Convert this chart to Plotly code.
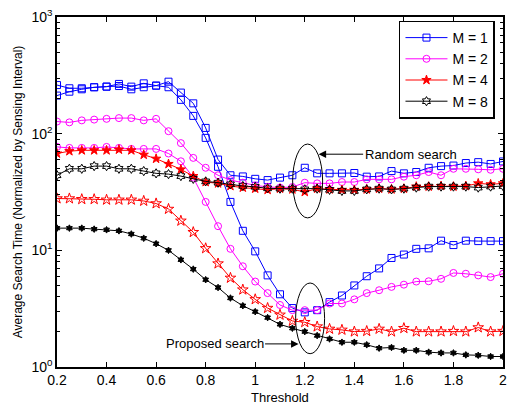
import plotly.graph_objects as go

thresholds = [0.2, 0.25, 0.3, 0.35, 0.4, 0.45, 0.5, 0.55, 0.6, 0.65,
              0.7, 0.75, 0.8, 0.85, 0.9, 0.95, 1.0, 1.05, 1.1, 1.15,
              1.2, 1.25, 1.3, 1.35, 1.4, 1.45, 1.5, 1.55, 1.6, 1.65,
              1.7, 1.75, 1.8, 1.85, 1.9, 1.95, 2.0]

random_m1 = [261, 245, 245, 250, 253, 267, 253, 270, 258, 279,
             225, 182, 112, 60, 44, 43, 41, 40, 42, 44,
             51, 45.7, 45.7, 45.7, 46, 42.8, 43, 47.8, 45.7, 46.9,
             51, 52.7, 53.3, 56, 57, 55, 57.8]
proposed_m1 = [212, 229, 240, 250, 253, 256, 240, 250, 258, 250,
               195, 142, 92, 52, 26, 14.7, 9.8, 6.1, 4.2, 3.2,
               2.94, 3.07, 3.6, 4.1, 5.0, 6.0, 7.0, 8.6, 9.2, 10.3,
               10.4, 12.1, 11.1, 12.1, 12, 12, 12]
random_m2 = [127, 125, 130, 132, 134, 136, 136, 130, 134, 105,
             83, 62, 51, 44, 40, 38, 36, 35, 34.5, 34.9,
             38, 37.5, 37.5, 38.5, 38.5, 40.6, 40.6, 40.6, 42.8, 44,
             46.9, 44, 50, 50, 49.5, 49, 50]
proposed_m2 = [77, 75.5, 75.5, 75.5, 77, 75.5, 74, 74, 74, 67.6,
               58, 42, 26, 16.1, 10.3, 7.3, 5.4, 4.3, 3.4, 3.07,
               3.07, 3.07, 3.5, 3.5, 3.8, 4.3, 4.55, 4.86, 5.08, 5.4,
               5.43, 5.7, 6.4, 6.3, 6.1, 5.9, 6.3]
random_m4 = [67.6, 70.8, 72, 72, 72, 73, 72, 66, 61, 55,
             49.4, 43.3, 38.5, 37.5, 35.6, 34.5, 33.8, 33, 33.8, 33.3,
             31.7, 33.8, 33.3, 33, 33, 33.3, 33.8, 33.3, 33.8, 35.2,
             35.2, 35.6, 35.2, 35.6, 37.5, 36.8, 37.5]
proposed_m4 = [27.8, 27.8, 27.4, 27.4, 27.1, 27.1, 27.1, 26.5, 25.2, 22.6,
               17.9, 14.3, 10.4, 7.7, 5.8, 4.6, 3.8, 3.2, 2.8, 2.48,
               2.42, 2.22, 2.12, 2.08, 2.01, 2.03, 2.12, 2.01, 2.15, 2.01,
               2.01, 2.01, 2.03, 2.01, 2.18, 2.01, 2.03]
random_m8 = [44, 50, 50, 52.7, 52.7, 50, 50, 47.8, 45.7, 45,
             43.3, 41, 39, 38, 36.8, 35.6, 35, 34, 33.8, 33.8,
             33.3, 33.8, 33, 32.3, 32.3, 33.3, 33.8, 33.3, 33.8, 34.5,
             35.2, 35.2, 35.2, 35.2, 34.5, 35.2, 35.6]
proposed_m8 = [15.5, 15.5, 15.5, 15.2, 15.0, 14.7, 13.8, 12.7, 11.4, 10.0,
               8.3, 6.9, 5.6, 4.8, 3.9, 3.35, 2.98, 2.65, 2.32, 2.15,
               2.01, 1.86, 1.74, 1.63, 1.63, 1.55, 1.45, 1.47, 1.39, 1.39,
               1.34, 1.32, 1.32, 1.27, 1.26, 1.23, 1.23]

x_tick_vals = [0.2, 0.4, 0.6, 0.8, 1.0, 1.2, 1.4, 1.6, 1.8, 2.0]
x_tick_text = ["0.2", "0.4", "0.6", "0.8", "1", "1.2", "1.4", "1.6", "1.8", "2"]
y_tick_vals = [1, 10, 100, 1000]
y_tick_text = ["10<sup>0</sup>", "10<sup>1</sup>", "10<sup>2</sup>", "10<sup>3</sup>"]
y_minor_vals = [m * d for d in (1, 10, 100) for m in range(2, 10)]

labels = ["M = 1", "M = 2", "M = 4", "M = 8"]
colors = ["#0000FF", "#FF00FF", "#FF0000", "#000000"]

series = [
    (random_m1, proposed_m1),
    (random_m2, proposed_m2),
    (random_m4, proposed_m4),
    (random_m8, proposed_m8),
]
random_markers = [
    dict(symbol="square-open", size=7),
    dict(symbol="circle-open", size=7),
    dict(symbol="star", size=7),
    dict(symbol="hexagram-open", size=7),
]
proposed_markers = [
    dict(symbol="square-open", size=7),
    dict(symbol="circle-open", size=7),
    dict(symbol="star-open", size=8),
    dict(symbol="hexagram", size=5),
]

fig = go.Figure()
for i, (rnd, prop) in enumerate(series):
    c = colors[i]
    fig.add_trace(go.Scatter(
        x=thresholds, y=rnd, mode="lines+markers", name=labels[i],
        legendgroup=labels[i], showlegend=True,
        line=dict(color=c, width=1),
        marker=dict(color=c, line=dict(color=c, width=1), **random_markers[i]),
    ))
    fig.add_trace(go.Scatter(
        x=thresholds, y=prop, mode="lines+markers", name=labels[i],
        legendgroup=labels[i], showlegend=False,
        line=dict(color=c, width=1),
        marker=dict(color=c, line=dict(color=c, width=1), **proposed_markers[i]),
    ))

font_family = "Liberation Sans, Arial, sans-serif"

fig.update_layout(
    width=512, height=404,
    margin=dict(l=57, r=9, t=17, b=37),
    paper_bgcolor="white", plot_bgcolor="white",
    font=dict(family=font_family, size=13, color="black"),
    showlegend=True,
    legend=dict(
        x=0.982, y=0.99, xanchor="right", yanchor="top",
        bordercolor="black", borderwidth=1.5, bgcolor="white",
        font=dict(size=14), tracegroupgap=0, itemwidth=42,
    ),
    xaxis=dict(
        range=[0.2, 2.0], tickmode="array", tickvals=x_tick_vals, ticktext=x_tick_text,
        ticks="inside", ticklen=5, tickcolor="black", showline=True, linecolor="black",
        linewidth=1.5, mirror="ticks", showgrid=False, zeroline=False,
        tickfont=dict(size=14), ticklabelstandoff=-1, automargin=False,
    ),
    yaxis=dict(
        type="log", range=[0, 3], tickmode="array", tickvals=y_tick_vals, ticktext=y_tick_text,
        ticks="inside", ticklen=5, tickcolor="black", showline=True, linecolor="black",
        linewidth=1.5, mirror="ticks", showgrid=False, zeroline=False,
        tickfont=dict(size=14), automargin=False,
        minor=dict(tickmode="array", tickvals=y_minor_vals, ticks="inside", ticklen=3,
                   tickcolor="black", showgrid=False),
        title=dict(text="Average Search Time (Normalized by Sensing Interval)",
                   font=dict(size=12), standoff=6),
    ),
)

# x-axis title placed just below the tick labels
fig.add_annotation(x=0.5, y=-0.086, xref="paper", yref="paper", text="Threshold",
                   showarrow=False, xanchor="center", yanchor="middle", font=dict(size=13))

# Ellipses marking the curves at threshold 1.2
fig.add_shape(type="circle", xref="x", yref="paper", x0=1.151, x1=1.272, y0=0.426, y1=0.637,
              line=dict(color="black", width=1))
fig.add_shape(type="circle", xref="x", yref="paper", x0=1.163, x1=1.280, y0=0.038, y1=0.240,
              line=dict(color="black", width=1))

fig.add_annotation(x=1.256, y=0.608, xref="x", yref="paper", text="Random search",
                   showarrow=True, ax=92, ay=0, arrowhead=2, arrowsize=1.5, arrowwidth=1,
                   arrowcolor="black", font=dict(size=13))
fig.add_annotation(x=1.175, y=0.066, xref="x", yref="paper", text="Proposed search",
                   showarrow=True, ax=-84, ay=0, arrowhead=2, arrowsize=1.5, arrowwidth=1,
                   arrowcolor="black", font=dict(size=13))

fig.write_html("out.html")
